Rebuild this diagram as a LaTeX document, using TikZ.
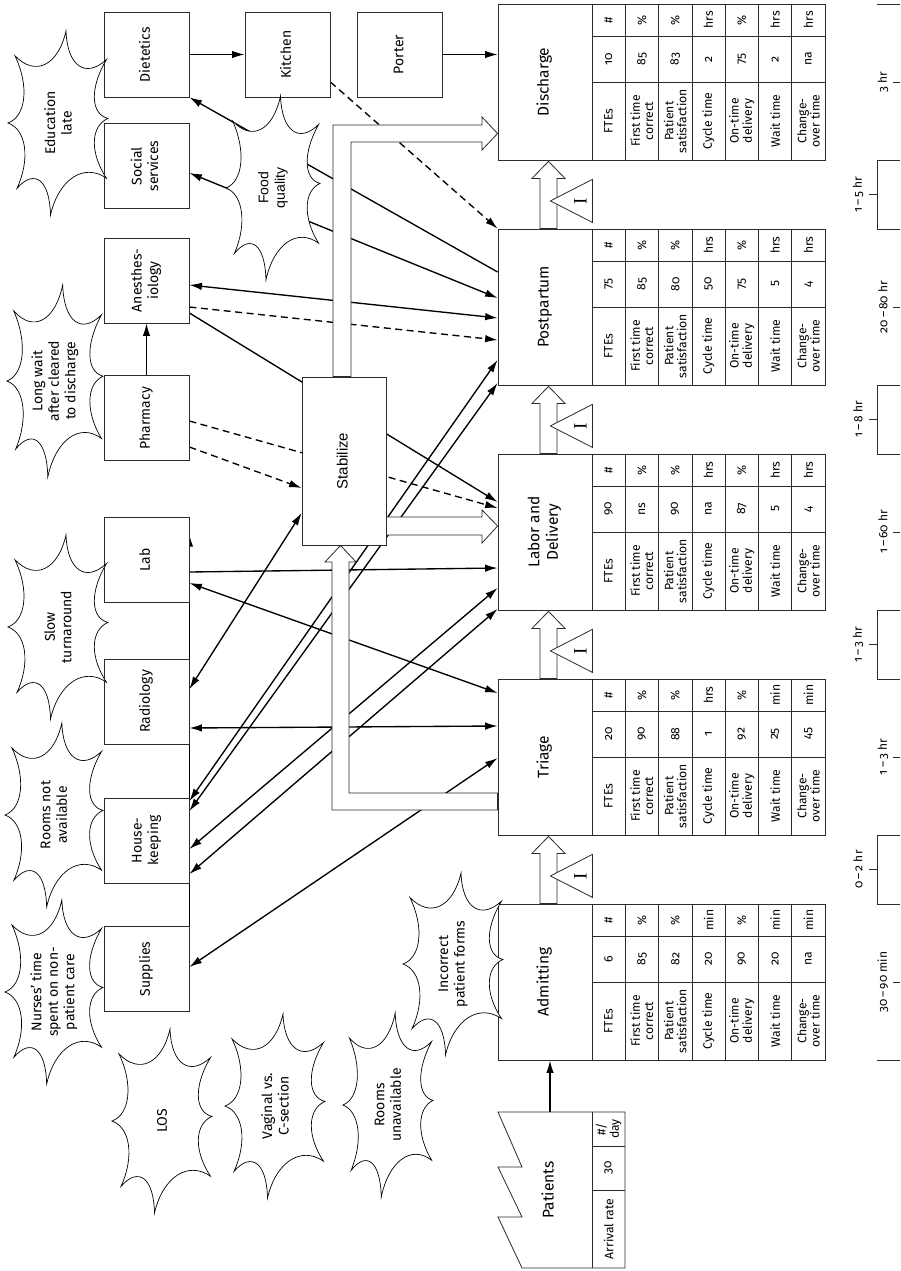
\documentclass[tikz,border=0pt]{standalone}
\usepackage{fontspec}
\usepackage{graphicx}
\usepackage{xcolor}
\usepackage{tikz}
\usetikzlibrary{arrows.meta,calc,backgrounds}
\setmainfont{Fira Sans}[Numbers=OldStyle]
\newfontfamily\arialfont{Liberation Sans}
\newfontfamily\seriffont{Liberation Serif}
\definecolor{edgeGray}{HTML}{2B2B2B}
\newcommand{\uptext}[1]{\rotatebox{90}{\begin{tabular}{@{}c@{}}#1\end{tabular}}}
% data table beside a process box: name, top y, value/unit pairs
\newcommand{\proctable}[3]{%
  \draw[tbl] (592,#2) rectangle (825,#2+156)
    (592,#2+32) -- (825,#2+32) (592,#2+78) -- (825,#2+78);
  \foreach \lab [count=\i from 0] in {FTEs,{First time\\correct},{Patient\\satisfaction},
      Cycle time,{On-time\\delivery},Wait time,{Change-\\over time}} {
    \draw[tbl] (592+33.3*\i,#2) -- (592+33.3*\i,#2+156);
    \node[cell] (#1-l\i) at (608.6+33.3*\i,#2+117) {\lab};
  }
  \foreach \val/\unit [count=\i from 0] in {#3} {
    \node[cell] (#1-v\i) at (608.6+33.3*\i,#2+55) {\val};
    \node[cell] (#1-u\i) at (608.6+33.3*\i,#2+16) {\unit};
  }}
% push arrow and inventory triangle between two processes
\newcommand{\pushup}[2]{%
  \draw[push] ([xshift=-5pt]#1.north) -- ([xshift=-5pt,yshift=-18pt]#2.south)
    -- ([xshift=-13pt,yshift=-18pt]#2.south) -- ([xshift=3.5pt,yshift=-1pt]#2.south)
    -- ([xshift=20pt,yshift=-18pt]#2.south) -- ([xshift=12pt,yshift=-18pt]#2.south)
    -- ([xshift=12pt]#1.north) -- cycle;
  \draw[push] ([yshift=-19pt]#2.south east) -- ([xshift=-42pt,yshift=-40.5pt]#2.south east)
    -- ([yshift=-62pt]#2.south east) -- cycle;
  \node[invI] (#2-inv) at ([xshift=-12pt,yshift=-40.5pt]#2.south east) {I};}
% kaizen burst: centre, x radius, y radius
\newcommand{\kburst}[3]{%
  \draw[burst,shift={#1},xscale=#2,yscale=#3]
    (0.16,-1) .. controls (0.185,-0.619) and (0.55,-0.48) .. (0.97,-0.69)
    .. controls (0.634,-0.385) and (0.647,-0.097) .. (1,-0.05)
    .. controls (0.647,0.033) and (0.634,0.325) .. (0.97,0.6)
    .. controls (0.519,0.43) and (0.015,0.61) .. (-0.15,1)
    .. controls (-0.165,0.621) and (-0.466,0.491) .. (-0.82,0.71)
    .. controls (-0.551,0.391) and (-0.632,0.071) .. (-1,0)
    .. controls (-0.636,-0.073) and (-0.573,-0.402) .. (-0.86,-0.73)
    .. controls (-0.457,-0.502) and (0.002,-0.623) .. (0.16,-1) -- cycle;}

\begin{document}
\begin{tikzpicture}[
    x=1pt, y=-1pt,
    >={Latex[length=12.5pt,width=7.5pt]},
    box/.style={rectangle,draw=edgeGray,fill=white,line width=0.8pt,inner sep=0pt},
    sbox/.style={box,minimum width=85pt,minimum height=85pt,
                 font=\fontsize{14}{16.5}\selectfont},
    proc/.style={box,minimum width=94pt,minimum height=156pt,
                 font=\fontsize{15.5}{18.5}\selectfont},
    stab/.style={box,minimum width=84pt,minimum height=168pt,
                 font=\arialfont\fontsize{15}{18}\selectfont},
    cell/.style={rotate=90,inner sep=0pt,align=center,font=\fontsize{12.2}{13.2}\selectfont},
    tbl/.style={draw=edgeGray,line width=0.8pt},
    info/.style={line width=1.35pt},
    dsh/.style={info,dash pattern=on 7pt off 4.5pt},
    push/.style={draw=edgeGray,fill=white,line width=0.8pt},
    invI/.style={rotate=90,inner sep=0pt,font=\seriffont\fontsize{19}{19}\selectfont},
    burst/.style={draw=black,fill=white,line width=0.7pt},
    ctext/.style={rotate=90,align=center,inner sep=0pt,font=\fontsize{14}{16.5}\selectfont},
    tline/.style={draw=edgeGray,line width=0.8pt},
    tlab/.style={rotate=90,inner sep=0pt,font=\fontsize{12}{14}\selectfont}
  ]
  \useasboundingbox (0,0) rectangle (900,1271);
  %% Support departments
  \node[sbox] (diet)  at (146.5,54.5)  {\uptext{Dietetics}};
  \node[sbox] (kitch) at (287.5,54.5)  {\uptext{Kitchen}};
  \node[sbox] (port)  at (400,54.5)    {\uptext{Porter}};
  \node[sbox] (soc)   at (146.5,166)   {\uptext{Social\\services}};
  \node[sbox] (anes)  at (146.5,280.5) {\uptext{Anesthes-\\iology}};
  \node[sbox] (pharm) at (146.5,418)   {\uptext{Pharmacy}};
  \node[sbox] (lab)   at (146.5,560)   {\uptext{Lab}};
  \node[sbox] (rad)   at (146.5,701.5) {\uptext{Radiology}};
  \node[sbox] (hk)    at (146.5,840.5) {\uptext{House-\\keeping}};
  \node[sbox] (sup)   at (146.5,969)   {\uptext{Supplies}};
  \node[stab] (stab)  at (344,461)     {\uptext{Stabilize}};
  %% Process boxes with data
  \node[proc] (dis)   at (545,82)  {\uptext{Discharge}};
  \node[proc] (post)  at (545,307) {\uptext{Postpartum}};
  \node[proc] (ld)    at (545,532) {\uptext{Labor and\\Delivery}};
  \node[proc] (tri)   at (545,757) {\uptext{Triage}};
  \node[proc] (admit) at (545,982) {\uptext{Admitting}};
  \proctable{dis}{4}{10/\#,85/\%,83/\%,2/hrs,75/\%,2/hrs,na/hrs}
  \proctable{post}{229}{75/\#,85/\%,80/\%,50/hrs,75/\%,5/hrs,4/hrs}
  \proctable{ld}{454}{90/\#,ns/\%,90/\%,na/hrs,87/\%,5/hrs,4/hrs}
  \proctable{tri}{679}{20/\#,90/\%,88/\%,1/hrs,92/\%,25/min,45/min}
  \proctable{admit}{904}{6/\#,85/\%,82/\%,20/min,90/\%,20/min,na/min}
  %% Patients
  \draw[push] (498,1112) -- (522,1167) -- (498,1167) -- (522,1217) -- (498,1217)
    -- (522,1268) -- (625,1268) -- (625,1112) -- cycle;
  \draw[tbl] (592,1112) -- (592,1268) (592,1146) -- (625,1146) (592,1190) -- (625,1190);
  \node[inner sep=0pt,font=\fontsize{15.5}{18.5}\selectfont] (pat) at (550,1190) {\uptext{Patients}};
  \node[cell] (pat-u) at (608.6,1129) {\#/\\day};
  \node[cell] (pat-v) at (608.6,1168) {30};
  \node[cell] (pat-l) at (608.6,1229) {Arrival rate};
  %% Information flows
  \begin{scope}[on background layer]
    \fill[white] (0,0) rectangle (900,1271);
    \draw[info,->] (diet) -- (kitch);
    \draw[dsh,->] (kitch.east |- 0,82) -- (post.north west);
    \draw[info,->] (port) -- (port -| dis.west);
    \draw[info,->] (post.west |- 0,272) -- (diet.south east);
    \draw[info,<->] (soc.east |- 0,173) -- (post.west |- 0,298);
    \draw[info,<->] (anes.east |- 0,285) -- (post.west |- 0,318);
    \draw[dsh,->] (anes.east |- 0,307) -- (post.west |- 0,340);
    \draw[info,->] (anes.east |- 0,313) -- (ld.west |- 0,502);
    \draw[info,->] (pharm) -- (anes);
    \draw[dsh,->] (pharm.east |- 0,421) -- (ld.west |- 0,508);
    \draw[dsh,->] (pharm.east |- 0,447) -- (stab.west |- 0,488);
    \draw[info,<->] (rad.east |- 0,689) -- (stab.west |- 0,513);
    \draw[info,<->] (hk.east |- 0,801) -- (post.west |- 0,360);
    \draw[info,<->] (hk.east |- 0,811) -- (post.west |- 0,383);
    \draw[info,->] (lab.east |- 0,572) -- (ld.west |- 0,568);
    \draw[info,<->] (lab.east |- 0,583) -- (tri.west |- 0,693);
    \draw[info,<->] (rad.east |- 0,728) -- (tri.west |- 0,726);
    \draw[info,<->] (hk.east |- 0,849) -- (ld.west |- 0,588);
    \draw[info,<->] (hk.east |- 0,874) -- (ld.west |- 0,609);
    \draw[info,<->] (sup.east |- 0,967) -- (tri.west |- 0,758);
    \draw[line width=1.6pt,->] (sup.south east) -- ([yshift=-17pt]lab.north east);
    \draw[info,->] (pat |- 0,1112) -- (admit.south -| pat);
  \end{scope}
  %% Patient flow tubes
  \draw[push] (tri.west |- 0,793) -- (349,793) -- (349,562) -- (356,562)
    -- (stab.south -| 340.5,0) -- (325,562) -- (332,562) -- (332,810)
    -- (tri.west |- 0,810) -- cycle;
  \draw[push] (stab.north -| 333,0) -- (333,125) -- (482,125) -- (482,117)
    -- (dis.west |- 0,133.5) -- (482,150) -- (482,142) -- (351,142)
    -- (stab.north -| 351,0) -- cycle;
  \draw[push] (stab.east |- 0,517) -- (482,517) -- (482,510) -- (ld.west |- 0,526)
    -- (482,543) -- (482,535) -- (stab.east |- 0,535) -- cycle;
  \pushup{admit}{tri}
  \pushup{tri}{ld}
  \pushup{ld}{post}
  \pushup{post}{dis}
  %% Kaizen bursts
  \kburst{(58,123)}{50}{92}
  \node[ctext] (b-edu) at (58,123) {Education\\late};
  \kburst{(55,381)}{48}{96}
  \node[ctext] (b-wait) at (55,381) {Long wait\\after cleared\\to discharge};
  \kburst{(273,188)}{47}{92}
  \node[ctext,font=\arialfont\fontsize{14}{16.5}\selectfont] (b-food) at (273,188) {Food\\quality};
  \kburst{(58,627)}{50}{92}
  \node[ctext] (b-slow) at (58,627) {Slow\\turnaround};
  \kburst{(54,815)}{49}{92}
  \node[ctext] (b-rooms) at (54,815) {Rooms not\\available};
  \kburst{(54,992)}{49}{92}
  \node[ctext] (b-nurse) at (54,992) {Nurses’ time\\spent on non-\\patient care};
  \kburst{(162,1121)}{50}{92}
  \node[ctext] (b-los) at (162,1121) {LOS};
  \kburst{(275,1106)}{50}{92}
  \node[ctext] (b-vag) at (275,1106) {Vaginal vs.\\C-section};
  \kburst{(388,1105)}{45}{92}
  \node[ctext] (b-unav) at (388,1105) {Rooms\\unavailable};
  \kburst{(453,964)}{50}{91}
  \node[ctext] (b-forms) at (453,964) {Incorrect\\patient forms};
  %% Timeline
  \foreach \ya/\yb/\txt [count=\i] in {160/229/{1\,--\,5 hr},385/454/{1\,--\,8 hr},
      610/679/{1\,--\,3 hr},835/904/{0\,--\,2 hr}} {
    \draw[tline] (900,\ya) -- (877,\ya) -- (877,\yb) -- (900,\yb);
    \draw[tline] (869,{(\ya+\yb)/2}) -- (877,{(\ya+\yb)/2});
    \node[tlab] (wait\i) at (858,{(\ya+\yb)/2}) {\txt};
  }
  \foreach \ya/\yb/\txt [count=\i] in {4/160/3 hr,229/385/{20\,--\,80 hr},
      454/610/{1\,--\,60 hr},679/835/{1\,--\,3 hr},904/1060/{30\,--\,90 min}} {
    \draw[tline] (893,{(\ya+\yb)/2}) -- (900,{(\ya+\yb)/2});
    \node[tlab] (ptime\i) at (883,{(\ya+\yb)/2}) {\txt};
  }
  \draw[tline] (877,4) -- (900,4) (877,1060) -- (900,1060);
\end{tikzpicture}
\end{document}
